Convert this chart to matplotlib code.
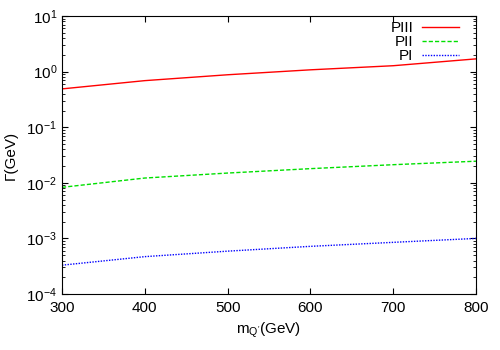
import numpy as np
import matplotlib
matplotlib.use("Agg")
import matplotlib.pyplot as plt

plt.rcParams['font.family'] = ['Liberation Sans', 'DejaVu Sans']
plt.rcParams['mathtext.fontset'] = 'custom'
plt.rcParams['mathtext.rm'] = 'Liberation Sans'

# masses (GeV)
m_q = [300, 400, 500, 600, 700, 800]

# widths (GeV)
gamma_p3 = [0.49, 0.69, 0.88, 1.08, 1.28, 1.70]
gamma_p2 = [0.0083, 0.0122, 0.0150, 0.0180, 0.0212, 0.0245]
gamma_p1 = [3.3e-4, 4.7e-4, 5.9e-4, 7.2e-4, 8.5e-4, 1.0e-3]

fig = plt.figure(figsize=(5, 3.5), dpi=100)
ax = fig.add_axes([0.124, 0.16, 0.828, 0.794])

ax.plot(m_q, gamma_p3, color='#ff0000', lw=1.0, label='PIII')
ax.plot(m_q, gamma_p2, color='#00e000', lw=1.0, ls=(0, (3, 1.5)), label='PII')
ax.plot(m_q, gamma_p1, color='#0000ff', lw=1.0, ls=(0, (1, 1)), label='PI')

ax.set_yscale('log')
ax.set_xlim(300, 800)
ax.set_ylim(1e-4, 10)
ax.set_xticks([300, 400, 500, 600, 700, 800])

ax.tick_params(which='both', direction='in', top=True, right=True, labelsize=11)
ax.tick_params(which='major', length=4)
ax.tick_params(which='minor', length=2)
ax.tick_params(axis='x', pad=5)

ax.set_xlabel("m$_{\\mathrm{Q'}}$(GeV)", fontsize=11, labelpad=4)
ax.set_ylabel("Γ(GeV)", fontsize=11, labelpad=6)

ax.legend(loc='upper right', bbox_to_anchor=(0.959, 0.981), frameon=False,
          markerfirst=False, fontsize=11, handlelength=2.4, labelspacing=0.0,
          borderpad=0, borderaxespad=0, handletextpad=0.6)

fig.savefig('out.png', dpi=100)
